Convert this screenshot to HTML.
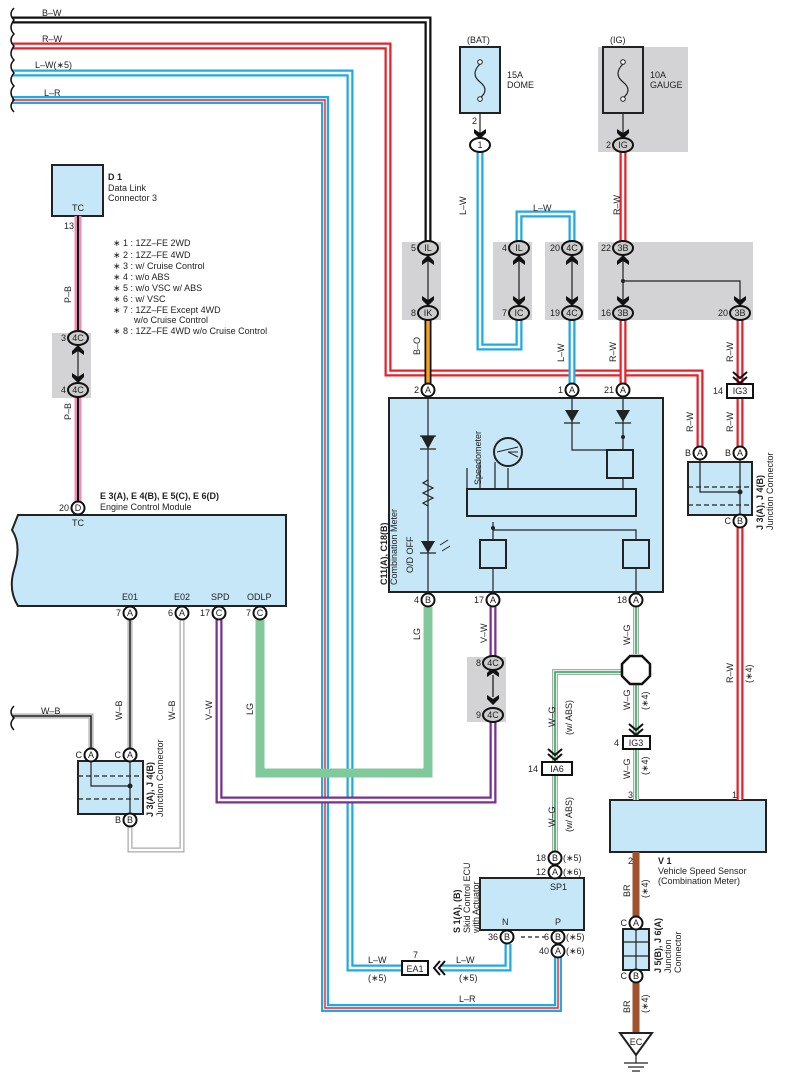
<!DOCTYPE html>
<html><head><meta charset="utf-8"><style>
html,body{margin:0;padding:0;background:#fff}
svg{display:block;font-family:"Liberation Sans",sans-serif}
text{font-size:9px;fill:#222}
.c{fill:#fff;stroke:#111;stroke-width:2}
.o{fill:#ccc;stroke:#111;stroke-width:2}
.t{text-anchor:middle}
.bx{fill:#c6e7f8;stroke:#222;stroke-width:2}
.g{fill:#d3d3d5}
</style></head><body>
<svg width="785" height="1087" viewBox="0 0 785 1087" xmlns="http://www.w3.org/2000/svg">
<rect class="g" x="598" y="47" width="90" height="105"/>
<rect class="g" x="402" y="242" width="39" height="78"/>
<rect class="g" x="493" y="242" width="39" height="78"/>
<rect class="g" x="545" y="242" width="39" height="78"/>
<rect class="g" x="598" y="242" width="155" height="78"/>
<rect class="g" x="52" y="333" width="39" height="65"/>
<rect class="g" x="467" y="657" width="39" height="65"/>

<rect class="bx" x="389" y="398" width="274" height="194"/>
<path class="bx" d="M18 515 H286 V606 H18 Q8 590 14 570 Q22 545 12 530 Z"/>
<rect class="bx" x="52" y="165" width="51" height="51"/>
<rect class="bx" x="460" y="47" width="40" height="66"/>
<rect x="603" y="47" width="40" height="66" fill="none" stroke="#222" stroke-width="2"/>
<rect class="bx" x="688" y="462" width="64" height="53"/>
<rect class="bx" x="78" y="761" width="65" height="53"/>
<rect class="bx" x="610" y="800" width="156" height="52"/>
<rect class="bx" x="480" y="878" width="104" height="52"/>
<rect class="bx" x="623" y="929" width="26" height="41"/>

<g fill="none" stroke-linejoin="miter">
<path d="M12 20 H428 V242" stroke="#111" stroke-width="7"/>
<path d="M12 20 H428 V242" stroke="#fff" stroke-width="2.5"/>
<path d="M12 46 H388 V373 H700 V447" stroke="#e8202a" stroke-width="7"/>
<path d="M12 46 H388 V373 H700 V447" stroke="#fff" stroke-width="2.5"/>
<path d="M12 73 H350 V968 H402" stroke="#1eaae6" stroke-width="7"/>
<path d="M12 73 H350 V968 H402" stroke="#fff" stroke-width="2.5"/>
<path d="M12 100 H325 V1008 H558 V957" stroke="#1eaae6" stroke-width="8"/>
<path d="M12 100 H325 V1008 H558 V957" stroke="#fff" stroke-width="3.5"/>
<path d="M12 100 H325 V1008 H558 V957" stroke="#e8202a" stroke-width="1.4"/>
<path d="M480 152 V347 H519 V320" stroke="#1eaae6" stroke-width="7"/>
<path d="M480 152 V347 H519 V320" stroke="#fff" stroke-width="2.5"/>
<path d="M519 241 V214 H572 V241" stroke="#1eaae6" stroke-width="7"/>
<path d="M519 241 V214 H572 V241" stroke="#fff" stroke-width="2.5"/>
<path d="M572 320 V383" stroke="#1eaae6" stroke-width="7"/>
<path d="M572 320 V383" stroke="#fff" stroke-width="2.5"/>
<path d="M440 968 H508 V944" stroke="#1eaae6" stroke-width="7"/>
<path d="M440 968 H508 V944" stroke="#fff" stroke-width="2.5"/>
<path d="M623 152 V241 M623 320 V383 M740 320 V384 M740 398 V447 M740 528 V800" stroke="#e8202a" stroke-width="7"/>
<path d="M623 152 V241 M623 320 V383 M740 320 V384 M740 398 V447 M740 528 V800" stroke="#fff" stroke-width="2.5"/>
<path d="M428 320 V383" stroke="#111" stroke-width="7"/>
<path d="M428 320 V383" stroke="#f7a31c" stroke-width="3.5"/>
<path d="M78 216 V331 M78 397 V501" stroke="#f08cb4" stroke-width="7"/>
<path d="M78 216 V331 M78 397 V501" stroke="#111" stroke-width="2"/>
<path d="M428 607 V773 H260 V620" stroke="#80c99b" stroke-width="9"/>
<path d="M493 607 V661 M493 722 V800 H219 V620" stroke="#7b2f91" stroke-width="7"/>
<path d="M493 607 V661 M493 722 V800 H219 V620" stroke="#fff" stroke-width="2.5"/>
<path d="M636 607 V654 M622 672 H555 V762 M555 775 V851 M636 682 V736 M636 749 V800" stroke="#aaa" stroke-width="6"/>
<path d="M636 607 V654 M622 672 H555 V762 M555 775 V851 M636 682 V736 M636 749 V800" stroke="#fff" stroke-width="3.5"/>
<path d="M636 607 V654 M622 672 H555 V762 M555 775 V851 M636 682 V736 M636 749 V800" stroke="#17a34a" stroke-width="1.5"/>
<path d="M12 716 H91 V748 M130 620 V748 M130 827 V850 H182 V620" stroke="#aaa" stroke-width="5"/>
<path d="M12 716 H91 V748 M130 620 V748 M130 827 V850 H182 V620" stroke="#fff" stroke-width="2.5"/>
<path d="M12 716 H91 V748 M130 620 V748" stroke="#111" stroke-width="1.5"/>
<path d="M636 852 V916 M636 983 V1033" stroke="#a0522d" stroke-width="7"/>
<g stroke="#222" stroke-width="1.2">
<path d="M480 113 V138 M623 113 V138"/>
<path d="M428 255 V306 M519 255 V306 M572 255 V306 M623 255 V306 M623 281 H740 V306 M78 345 V383"/>
<path d="M428 398 V592 M572 398 V450 H623 M623 398 V450 M623 430 V450 M623 478 V489 M493 522 V540 M493 568 V592 M493 530 H636 V540 M636 568 V592"/>
<path d="M700 460 V492 H740 M740 460 V514 M91 761 V786 H130 M130 761 V814 M636 929 V970"/>
<path d="M507 930 V937 M558 930 V937 M555 872 V878"/>
<path d="M467 489 V468 M480 489 V462 M495 489 V462 M508 489 V468"/>
<path d="M636 1055 V1063 M624 1063 H648 M628 1067 H644 M632 1071 H640"/>
</g>
<path d="M688 487 H752 M688 505 H752 M78 776 H143 M78 799 H143" stroke="#222" stroke-width="1.2" stroke-dasharray="5,3"/>
<path d="M623 942 H649 M623 956 H649" stroke="#222" stroke-width="1.2"/>
<path d="M521 937 H545" stroke="#222" stroke-width="1.2" stroke-dasharray="4,3"/>
<path d="M480 64 Q470 74 480 82 Q490 90 480 98" stroke="#222" stroke-width="1.2"/>
<path d="M623 64 Q613 74 623 82 Q633 90 623 98" stroke="#222" stroke-width="1.2"/>
<path d="M14 8 Q8 14 14 20 Q8 28 14 34 Q8 40 14 46 Q8 54 14 60 Q8 66 14 73 Q8 80 14 86 Q8 92 14 100 Q8 106 14 112" stroke="#111" stroke-width="1.5"/>
<path d="M14 706 Q8 712 14 718 Q8 724 14 730" stroke="#111" stroke-width="1.5"/>
</g>
<g fill="#fff" stroke="#222" stroke-width="1"><circle cx="480" cy="62" r="2.3"/><circle cx="480" cy="99" r="2.3"/><circle cx="623" cy="62" r="2.3"/><circle cx="623" cy="99" r="2.3"/></g>
<g fill="#222">
<path d="M421 436 H435 L428 449 Z"/><path d="M421 541 H435 L428 553 Z"/>
<path d="M565 410 H579 L572 422 Z"/><path d="M616 410 H630 L623 422 Z"/>
<circle cx="623" cy="437" r="2"/><circle cx="493" cy="528" r="2"/>
<circle cx="130" cy="786" r="2.5"/><circle cx="740" cy="492" r="2.5"/><circle cx="623" cy="281" r="2"/>
</g>
<path d="M420 436 H436 M420 449 H436 M420 553 H436 M564 423 H580 M615 423 H631" stroke="#222" stroke-width="1.2"/>
<path d="M428 480 l-5 3 10 5 -10 5 10 5 -10 5 5 3" fill="none" stroke="#222" stroke-width="1.2"/>
<path d="M440 545 l8 -5 M442 551 l8 -5" stroke="#222" stroke-width="1"/>
<g fill="none" stroke="#222" stroke-width="2">
<rect x="607" y="450" width="26" height="28"/>
<rect x="467" y="489" width="169" height="27"/>
<rect x="480" y="540" width="26" height="28"/>
<rect x="623" y="540" width="26" height="28"/>
<circle cx="508" cy="452" r="14"/>
</g>
<path d="M497 452 L518 447 M508 452 L518 452 M508 452 L518 457" stroke="#222" stroke-width="1" fill="none"/>
<polygon points="630,656 642,656 650,664 650,676 642,684 630,684 622,676 622,664" fill="#fff" stroke="#111" stroke-width="2.5"/>
<polygon points="620,1033 652,1033 636,1055" fill="#fff" stroke="#222" stroke-width="2"/>
<text x="636" y="1045" class="t">EC</text>
<g fill="#fff" stroke="#111" stroke-width="2">
<rect x="727" y="384" width="26" height="14"/>
<rect x="623" y="736" width="27" height="13"/>
<rect x="542" y="762" width="30" height="13"/>
<rect x="402" y="961" width="26" height="14"/>
</g>
<text x="740" y="394" class="t">IG3</text><text x="636" y="746" class="t">IG3</text>
<text x="557" y="772" class="t">IA6</text><text x="415" y="972" class="t">EA1</text>
<g fill="none" stroke="#111" stroke-width="2">
<path d="M733 372 l7 6 7 -6 M733 377 l7 6 7 -6"/>
<path d="M629 724 l7 6 7 -6 M629 729 l7 6 7 -6"/>
<path d="M548 749 l7 6 7 -6 M548 754 l7 6 7 -6"/>
<path d="M440 961 l-6 7 6 7 M445 961 l-6 7 6 7"/>
</g>
<g fill="#111">
<path d="M474 129 l6 4 6 -4 v4 l-6 6 -6 -6z"/><path d="M617 129 l6 4 6 -4 v4 l-6 6 -6 -6z"/>
<path d="M422 265 l6 -4 6 4 v-4 l-6 -6 -6 6z M422 296 l6 4 6 -4 v4 l-6 6 -6 -6z"/>
<path d="M513 265 l6 -4 6 4 v-4 l-6 -6 -6 6z M513 296 l6 4 6 -4 v4 l-6 6 -6 -6z"/>
<path d="M566 265 l6 -4 6 4 v-4 l-6 -6 -6 6z M566 296 l6 4 6 -4 v4 l-6 6 -6 -6z"/>
<path d="M617 265 l6 -4 6 4 v-4 l-6 -6 -6 6z M617 296 l6 4 6 -4 v4 l-6 6 -6 -6z M734 296 l6 4 6 -4 v4 l-6 6 -6 -6z"/>
<path d="M72 355 l6 -4 6 4 v-4 l-6 -6 -6 6z M72 373 l6 4 6 -4 v4 l-6 6 -6 -6z"/>
<path d="M487 677 l6 -4 6 4 v-4 l-6 -6 -6 6z M487 695 l6 4 6 -4 v4 l-6 6 -6 -6z"/>
</g>
<path d="M493 675 V697" stroke="#111" stroke-width="1.2"/>
<g class="o">
<ellipse cx="623" cy="145" rx="10" ry="7"/>
<ellipse cx="428" cy="248" rx="10" ry="7"/><ellipse cx="428" cy="313" rx="10" ry="7"/>
<ellipse cx="519" cy="248" rx="10" ry="7"/><ellipse cx="519" cy="313" rx="10" ry="7"/>
<ellipse cx="572" cy="248" rx="10" ry="7"/><ellipse cx="572" cy="313" rx="10" ry="7"/>
<ellipse cx="623" cy="248" rx="10" ry="7"/><ellipse cx="623" cy="313" rx="10" ry="7"/>
<ellipse cx="740" cy="313" rx="10" ry="7"/>
<ellipse cx="78" cy="338" rx="10" ry="7"/><ellipse cx="78" cy="390" rx="10" ry="7"/>
<ellipse cx="493" cy="663" rx="10" ry="7"/><ellipse cx="493" cy="715" rx="10" ry="7"/>
</g>
<ellipse cx="480" cy="145" rx="10" ry="7" fill="#fff" stroke="#111" stroke-width="2"/>
<g>
<text x="480" y="148" class="t">1</text><text x="623" y="148" class="t">IG</text>
<text x="428" y="251" class="t">IL</text><text x="428" y="316" class="t">IK</text>
<text x="519" y="251" class="t">IL</text><text x="519" y="316" class="t">IC</text>
<text x="572" y="251" class="t">4C</text><text x="572" y="316" class="t">4C</text>
<text x="623" y="251" class="t">3B</text><text x="623" y="316" class="t">3B</text><text x="740" y="316" class="t">3B</text>
<text x="78" y="341" class="t">4C</text><text x="78" y="393" class="t">4C</text>
<text x="493" y="666" class="t">4C</text><text x="493" y="718" class="t">4C</text>
</g>
<g class="c">
<circle cx="428" cy="390" r="6.5"/><circle cx="572" cy="390" r="6.5"/><circle cx="623" cy="390" r="6.5"/>
<circle cx="428" cy="600" r="6.5"/><circle cx="493" cy="600" r="6.5"/><circle cx="636" cy="600" r="6.5"/>
<circle cx="700" cy="453" r="6.5"/><circle cx="740" cy="453" r="6.5"/><circle cx="740" cy="521" r="6.5"/>
<circle cx="78" cy="508" r="6.5"/>
<circle cx="130" cy="613" r="6.5"/><circle cx="182" cy="613" r="6.5"/><circle cx="219" cy="613" r="6.5"/><circle cx="260" cy="613" r="6.5"/>
<circle cx="91" cy="755" r="6.5"/><circle cx="130" cy="755" r="6.5"/><circle cx="130" cy="820" r="6.5"/>
<circle cx="555" cy="858" r="6.5"/><circle cx="555" cy="872" r="6.5"/>
<circle cx="507" cy="937" r="6.5"/><circle cx="558" cy="937" r="6.5"/><circle cx="558" cy="951" r="6.5"/>
<circle cx="636" cy="923" r="6.5"/><circle cx="636" cy="976" r="6.5"/>
</g>
<g>
<text x="428" y="393" class="t">A</text><text x="572" y="393" class="t">A</text><text x="623" y="393" class="t">A</text>
<text x="428" y="603" class="t">B</text><text x="493" y="603" class="t">A</text><text x="636" y="603" class="t">A</text>
<text x="700" y="456" class="t">A</text><text x="740" y="456" class="t">A</text><text x="740" y="524" class="t">B</text>
<text x="78" y="511" class="t">D</text>
<text x="130" y="616" class="t">A</text><text x="182" y="616" class="t">A</text><text x="219" y="616" class="t">C</text><text x="260" y="616" class="t">C</text>
<text x="91" y="758" class="t">A</text><text x="130" y="758" class="t">A</text><text x="130" y="823" class="t">B</text>
<text x="555" y="861" class="t">B</text><text x="555" y="875" class="t">A</text>
<text x="507" y="940" class="t">B</text><text x="558" y="940" class="t">B</text><text x="558" y="954" class="t">A</text>
<text x="636" y="926" class="t">A</text><text x="636" y="979" class="t">B</text>
</g>
<g text-anchor="end">
<text x="477" y="124">2</text><text x="611" y="148">2</text>
<text x="416" y="251">5</text><text x="416" y="316">8</text>
<text x="507" y="251">4</text><text x="507" y="316">7</text>
<text x="560" y="251">20</text><text x="560" y="316">19</text>
<text x="611" y="251">22</text><text x="611" y="316">16</text><text x="728" y="316">20</text>
<text x="66" y="341">3</text><text x="66" y="393">4</text>
<text x="481" y="666">8</text><text x="481" y="718">9</text>
<text x="419" y="393">2</text><text x="563" y="393">1</text><text x="614" y="393">21</text>
<text x="419" y="603">4</text><text x="484" y="603">17</text><text x="627" y="603">18</text>
<text x="723" y="394">14</text>
<text x="691" y="456">B</text><text x="731" y="456">B</text><text x="731" y="524">C</text>
<text x="69" y="511">20</text><text x="74" y="229">13</text>
<text x="121" y="616">7</text><text x="173" y="616">6</text><text x="210" y="616">17</text><text x="251" y="616">7</text>
<text x="82" y="758">C</text><text x="121" y="758">C</text><text x="121" y="823">B</text>
<text x="546" y="861">18</text><text x="546" y="875">12</text>
<text x="498" y="940">36</text><text x="549" y="940">6</text><text x="549" y="954">40</text>
<text x="619" y="746">4</text><text x="538" y="772">14</text>
<text x="627" y="926">C</text><text x="627" y="979">C</text>
<text x="633" y="798">3</text><text x="737" y="798">1</text><text x="633" y="864">2</text>
</g>
<g>
<text x="563" y="861">(∗5)</text><text x="563" y="875">(∗6)</text>
<text x="566" y="940">(∗5)</text><text x="566" y="954">(∗6)</text>
<text x="413" y="958">7</text>
<text x="368" y="963">L–W</text><text x="456" y="963">L–W</text>
<text x="368" y="981">(∗5)</text><text x="459" y="981">(∗5)</text>
<text x="459" y="1002">L–R</text>
<text x="42" y="16">B–W</text><text x="42" y="42">R–W</text><text x="35" y="68">L–W(∗5)</text><text x="44" y="96">L–R</text>
<text x="41" y="714">W–B</text>
<text x="533" y="211">L–W</text>
<text x="467" y="43">(BAT)</text><text x="610" y="43">(IG)</text>
<text x="507" y="78">15A</text><text x="507" y="88">DOME</text>
<text x="650" y="78">10A</text><text x="650" y="88">GAUGE</text>
<text x="72" y="211">TC</text><text x="72" y="526">TC</text>
<text x="108" y="180" font-weight="bold">D 1</text><text x="108" y="191">Data Link</text><text x="108" y="201">Connector 3</text>
<text x="100" y="499" font-weight="bold">E 3(A), E 4(B), E 5(C), E 6(D)</text>
<text x="100" y="510">Engine Control Module</text>
<text x="122" y="600">E01</text><text x="174" y="600">E02</text><text x="211" y="600">SPD</text><text x="247" y="600">ODLP</text>
<text x="550" y="890">SP1</text><text x="502" y="925">N</text><text x="555" y="925">P</text>
<text x="658" y="864" font-weight="bold">V 1</text><text x="658" y="874">Vehicle Speed Sensor</text><text x="658" y="884">(Combination Meter)</text>
</g>
<g font-size="9">
<text x="113" y="246">∗ 1 : 1ZZ–FE 2WD</text>
<text x="113" y="258">∗ 2 : 1ZZ–FE 4WD</text>
<text x="113" y="269">∗ 3 : w/ Cruise Control</text>
<text x="113" y="280">∗ 4 : w/o ABS</text>
<text x="113" y="291">∗ 5 : w/o VSC w/ ABS</text>
<text x="113" y="302">∗ 6 : w/ VSC</text>
<text x="113" y="313">∗ 7 : 1ZZ–FE Except 4WD</text>
<text x="134" y="323">w/o Cruise Control</text>
<text x="113" y="334">∗ 8 : 1ZZ–FE 4WD w/o Cruise Control</text>
</g>
<g>
<text transform="translate(71,303) rotate(-90)">P–B</text>
<text transform="translate(71,420) rotate(-90)">P–B</text>
<text transform="translate(466,215) rotate(-90)">L–W</text>
<text transform="translate(620,215) rotate(-90)">R–W</text>
<text transform="translate(420,355) rotate(-90)">B–O</text>
<text transform="translate(564,362) rotate(-90)">L–W</text>
<text transform="translate(616,362) rotate(-90)">R–W</text>
<text transform="translate(733,362) rotate(-90)">R–W</text>
<text transform="translate(693,432) rotate(-90)">R–W</text>
<text transform="translate(733,432) rotate(-90)">R–W</text>
<text transform="translate(733,683) rotate(-90)">R–W</text>
<text transform="translate(752,683) rotate(-90)">(∗4)</text>
<text transform="translate(420,640) rotate(-90)">LG</text>
<text transform="translate(487,643) rotate(-90)">V–W</text>
<text transform="translate(630,645) rotate(-90)">W–G</text>
<text transform="translate(555,727) rotate(-90)">W–G</text>
<text transform="translate(572,735) rotate(-90)">(w/ ABS)</text>
<text transform="translate(555,827) rotate(-90)">W–G</text>
<text transform="translate(572,832) rotate(-90)">(w/ ABS)</text>
<text transform="translate(630,710) rotate(-90)">W–G</text>
<text transform="translate(648,710) rotate(-90)">(∗4)</text>
<text transform="translate(630,779) rotate(-90)">W–G</text>
<text transform="translate(648,775) rotate(-90)">(∗4)</text>
<text transform="translate(630,897) rotate(-90)">BR</text>
<text transform="translate(648,898) rotate(-90)">(∗4)</text>
<text transform="translate(630,1013) rotate(-90)">BR</text>
<text transform="translate(648,1013) rotate(-90)">(∗4)</text>
<text transform="translate(122,720) rotate(-90)">W–B</text>
<text transform="translate(175,720) rotate(-90)">W–B</text>
<text transform="translate(212,720) rotate(-90)">V–W</text>
<text transform="translate(253,715) rotate(-90)">LG</text>
<text transform="translate(387,585) rotate(-90)" font-weight="bold">C11(A), C18(B)</text>
<text transform="translate(397,585) rotate(-90)">Combination Meter</text>
<text transform="translate(413,573) rotate(-90)">O/D OFF</text>
<text transform="translate(481,485) rotate(-90)">Speedometer</text>
<text transform="translate(763,530) rotate(-90)" font-weight="bold">J 3(A), J 4(B)</text>
<text transform="translate(773,530) rotate(-90)">Junction Connector</text>
<text transform="translate(153,817) rotate(-90)" font-weight="bold">J 3(A), J 4(B)</text>
<text transform="translate(163,817) rotate(-90)">Junction Connector</text>
<text transform="translate(460,933) rotate(-90)" font-weight="bold">S 1(A), (B)</text>
<text transform="translate(470,933) rotate(-90)">Skid Control ECU</text>
<text transform="translate(479,933) rotate(-90)">with Actuator</text>
<text transform="translate(661,973) rotate(-90)" font-weight="bold">J 5(B), J 6(A)</text>
<text transform="translate(671,973) rotate(-90)">Junction</text>
<text transform="translate(681,973) rotate(-90)">Connector</text>
</g>
</svg>
</body></html>
